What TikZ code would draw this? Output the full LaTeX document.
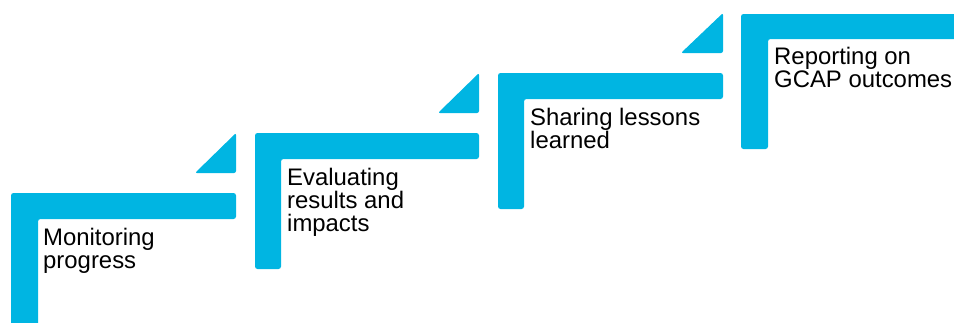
\documentclass[tikz,border=0pt]{standalone}
\usepackage{fontspec}
\setmainfont{Liberation Sans}
\usepackage{xcolor}
\definecolor{stair}{HTML}{00B5E2}
\definecolor{txt}{HTML}{000000}

\begin{document}
\begin{tikzpicture}[
  x=1pt, y=-1pt,
  stepL/.style={fill=stair, draw=none, rounded corners=2.5pt},
  tri/.style={fill=stair, draw=none, rounded corners=2pt},
  lbl/.style={anchor=base west, inner sep=0pt, align=left, text=txt,
    font=\fontsize{23.9}{23.4}\selectfont},
]
\useasboundingbox (0,0) rectangle (954,322);
\clip (0,0) rectangle (954,322);

% steps (L shapes)
\fill[stepL] (11,193) -- (236,193) -- (236,219) -- (38,219) -- (38,335) -- (11,335) -- cycle;
\fill[stepL] (255,133) -- (479,133) -- (479,159) -- (281,159) -- (281,269) -- (255,269) -- cycle;
\fill[stepL] (498,73) -- (723,73) -- (723,99) -- (524,99) -- (524,209) -- (498,209) -- cycle;
\fill[stepL] (741,14) -- (965,14) -- (965,39) -- (768,39) -- (768,149) -- (741,149) -- cycle;

% small triangles above the treads
\fill[tri] (195,173) -- (236,173) -- (236,133) -- cycle;
\fill[tri] (438,113) -- (479,113) -- (479,73) -- cycle;
\fill[tri] (681,53) -- (723,53) -- (723,13) -- cycle;

% labels (base = last line)
\node[lbl] (mon) at (43,268.4) {Monitoring\\progress};
\node[lbl] (eval) at (287,231.8) {Evaluating\\results and\\impacts};
\node[lbl] (share) at (530,148.4) {Sharing lessons\\learned};
\node[lbl] (report) at (774,87.4) {Reporting on\\GCAP outcomes};

\end{tikzpicture}
\end{document}
